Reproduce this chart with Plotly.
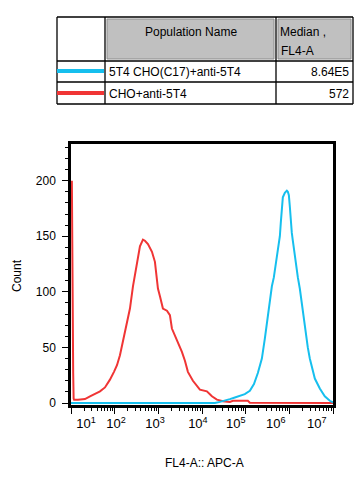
import plotly.graph_objects as go

# ---------------- data ----------------
populations = ["5T4 CHO(C17)+anti-5T4", "CHO+anti-5T4"]
medians = ["8.64E5", "572"]
colors = ["#16bfee", "#f03535"]

# FL4-A (log10 decades) and counts
red_log = [1.02, 1.03, 1.04, 1.05, 1.06, 1.07, 1.16, 1.32, 1.435, 1.549, 1.664, 1.778,
           1.892, 1.984, 2.053, 2.121, 2.19, 2.281, 2.35, 2.419, 2.51, 2.579, 2.648,
           2.693, 2.762, 2.854, 2.922, 2.968, 2.991, 3.037, 3.105, 3.197, 3.265, 3.311,
           3.38, 3.449, 3.54, 3.609, 3.677, 3.792, 3.952, 4.112, 4.227, 4.341, 4.478,
           4.638, 4.707, 5.05, 5.096, 7.0]
red_count = [200, 113, 46, 27, 4, 3, 3, 3.5, 6, 8, 10.5, 14,
             21, 28, 34, 43, 55, 70, 85, 105, 127, 141, 147,
             146, 143, 136, 127, 114, 103, 96, 85, 83, 79, 67,
             61, 55, 46, 38, 28, 20, 12, 10.5, 6, 3, 1.5,
             1, 2, 2, 0.3, 0]

cyan_log = [1.0, 4.295, 4.41, 4.524, 4.638, 4.753, 4.867, 4.98, 5.096, 5.19, 5.279,
            5.371, 5.439, 5.508, 5.554, 5.6, 5.645, 5.668, 5.714, 5.737, 5.783, 5.806,
            5.828, 5.851, 5.897, 5.943, 5.966, 5.989, 6.011, 6.034, 6.057, 6.08, 6.126,
            6.172, 6.195, 6.24, 6.309, 6.355, 6.423, 6.469, 6.584, 6.698, 6.812, 6.927, 7.0]
cyan_count = [0, 0, 1, 2, 3.5, 5, 6.5, 8, 11, 17, 27,
              40, 58, 78, 94, 105, 113, 120, 132, 141, 150, 163,
              177, 185, 189, 191, 190, 187, 177, 163, 153, 146, 132,
              120, 113, 103, 82, 67, 50, 40, 22, 13, 6, 2, 0.5]

decades = [1, 2, 3, 4, 5, 6, 7]
tick_text = [f"10<sup>{d}</sup>" for d in decades]

# ---------------- layout helpers ----------------
PAGE_W, PAGE_H = 364, 478
BODY = 8                       # default page margin around the plot div
FW, FH = PAGE_W - 2 * BODY, PAGE_H - 2 * BODY
PL, PR, PT, PB = 71, 333, 144, 405  # plot area in page pixels


def px(x):
    return (x - PL) / (PR - PL)


def py(y):
    return (PB - y) / (PB - PT)


FONT = "Liberation Sans, Arial, sans-serif"

fig = go.Figure()
fig.add_trace(go.Scatter(x=[10 ** v for v in red_log], y=red_count, mode="lines",
                         line=dict(color=colors[1], width=2), showlegend=False))
fig.add_trace(go.Scatter(x=[10 ** v for v in cyan_log], y=cyan_count, mode="lines",
                         line=dict(color=colors[0], width=2), showlegend=False))
# invisible trace to activate the label axis
fig.add_trace(go.Scatter(x=[10], y=[0], xaxis="x2", mode="markers",
                         marker=dict(opacity=0), showlegend=False, hoverinfo="skip"))

minor_vals = [k * 10 ** d for d in range(1, 7) for k in range(2, 10)]
label_pos = [1.343, 2.03, 2.922, 3.906, 4.776, 5.691, 6.629]  # label placement (decades)

shapes = []
annotations = []

# table grid
cols = [57, 105, 276, 353]
rows = [17, 61, 82, 104]
for (x0, x1) in [(107, 274), (278, 351)]:
    shapes.append(dict(type="rect", xref="paper", yref="paper",
                       x0=px(x0), x1=px(x1), y0=py(59), y1=py(19),
                       fillcolor="#c0c0c0", line=dict(color="#8c8c8c", width=1)))
for xc in cols:
    shapes.append(dict(type="line", xref="paper", yref="paper", x0=px(xc), x1=px(xc),
                       y0=py(rows[0]), y1=py(rows[-1]), line=dict(color="black", width=1.3)))
for yr in rows:
    shapes.append(dict(type="line", xref="paper", yref="paper", x0=px(cols[0]), x1=px(cols[-1]),
                       y0=py(yr), y1=py(yr), line=dict(color="black", width=1.3)))
for i, yc in enumerate([71, 93]):
    shapes.append(dict(type="line", xref="paper", yref="paper", x0=px(57), x1=px(104),
                       y0=py(yc), y1=py(yc), line=dict(color=colors[i], width=4)))

tfont = dict(family=FONT, size=12, color="black")
annotations.append(dict(text="Population Name", xref="paper", yref="paper",
                        x=px(190.5), y=py(32), showarrow=False, font=tfont,
                        xanchor="center", yanchor="middle"))
annotations.append(dict(text="Median ,", xref="paper", yref="paper",
                        x=px(278), y=py(32), showarrow=False, font=tfont,
                        xanchor="left", yanchor="middle"))
annotations.append(dict(text="FL4-A", xref="paper", yref="paper",
                        x=px(279), y=py(51), showarrow=False, font=tfont,
                        xanchor="left", yanchor="middle"))
for i, yc in enumerate([72.5, 94.5]):
    annotations.append(dict(text=populations[i], xref="paper", yref="paper",
                            x=px(107), y=py(yc), showarrow=False, font=tfont,
                            xanchor="left", yanchor="middle"))
    annotations.append(dict(text=medians[i], xref="paper", yref="paper",
                            x=px(351), y=py(yc), showarrow=False, font=tfont,
                            xanchor="right", yanchor="middle"))

annotations.append(dict(text="Count", xref="paper", yref="paper", x=px(17), y=py(276),
                        showarrow=False, textangle=-90, font=tfont,
                        xanchor="center", yanchor="middle"))
annotations.append(dict(text="FL4-A:: APC-A", xref="paper", yref="paper", x=px(204), y=py(463),
                        showarrow=False, font=tfont, xanchor="center", yanchor="middle"))

fig.update_layout(
    width=FW, height=FH, autosize=False,
    margin=dict(l=PL - BODY, r=FW - (PR - BODY), t=PT - BODY, b=FH - (PB - BODY), pad=0),
    paper_bgcolor="white", plot_bgcolor="white",
    font=dict(family=FONT, size=12, color="black"),
    shapes=shapes, annotations=annotations,
    xaxis=dict(type="log", range=[1, 7], showgrid=False, zeroline=False,
               showline=True, linecolor="black", linewidth=2.5, mirror=True,
               ticks="outside", ticklen=6, tickwidth=1, tickcolor="black",
               tickvals=[10 ** d for d in decades], showticklabels=False,
               minor=dict(tickvals=minor_vals, ticks="outside", ticklen=3,
                          tickcolor="black", tickwidth=1, showgrid=False)),
    xaxis2=dict(type="log", range=[1, 7], overlaying="x", anchor="y", side="bottom",
                showgrid=False, zeroline=False, showline=False, ticks="",
                tickvals=[10 ** v for v in label_pos], ticktext=tick_text,
                ticklabelstandoff=9, tickfont=dict(family=FONT, size=13, color="black")),
    yaxis=dict(range=[-1.8, 233], showgrid=False, zeroline=False,
               showline=True, linecolor="black", linewidth=2.5, mirror=True,
               ticks="outside", ticklen=6, tickwidth=1, tickcolor="black",
               tickvals=[0, 50, 100, 150, 200], ticklabelstandoff=4,
               tickfont=dict(family=FONT, size=12, color="black"),
               minor=dict(dtick=10, ticks="outside", ticklen=3, tickcolor="black",
                          tickwidth=1, showgrid=False)),
)

fig.write_html("out.html")
